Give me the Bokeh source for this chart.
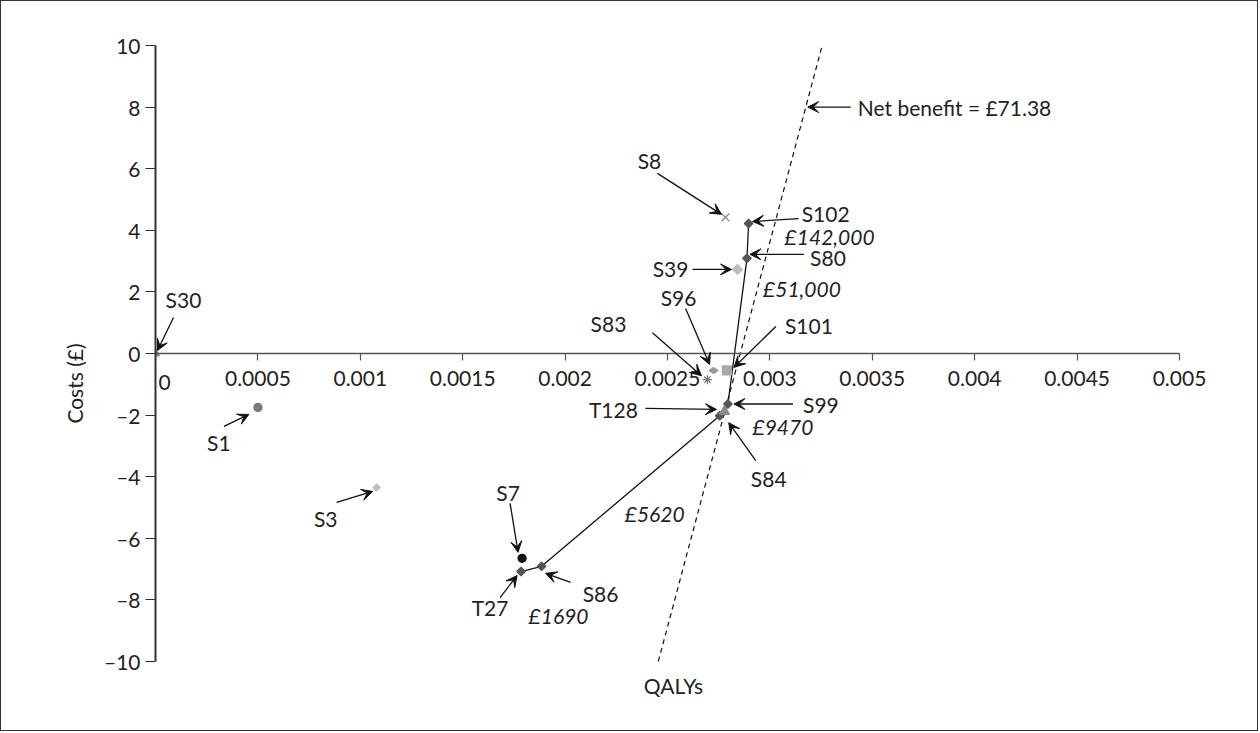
import math
from bokeh.plotting import figure
from bokeh.models import Arrow, VeeHead, ColumnDataSource, FixedTicker, Range1d
from bokeh.core.properties import value
from bokeh.embed import file_html
from bokeh.resources import INLINE

# Strategies: incremental QALYs and incremental costs (£)
names = ["S30", "S1", "S3", "S7", "T27", "S86", "S84", "S99", "S80", "S102",
         "S8", "S39", "S96", "S101", "S83", "T128"]
qalys = [0.0, 0.0005, 0.00108, 0.00179, 0.001785, 0.001885, 0.002755, 0.002795,
         0.002888, 0.002896, 0.002783, 0.002842, 0.002725, 0.00279, 0.002695, 0.002778]
costs = [0.0, -1.75, -4.35, -6.65, -7.08, -6.91, -2.02, -1.64,
         3.09, 4.22, 4.42, 2.73, -0.55, -0.55, -0.85, -1.88]

# Cost-effectiveness frontier and its ICER labels (one per segment)
frontier = ["T27", "S86", "S84", "S99", "S80", "S102"]
icer_labels = ["£1690", "£5620", "£9470", "£51,000", "£142,000"]

# Net benefit line
wtp = 25000          # £ per QALY
net_benefit = 71.38  # £

x_ticks = [0, 0.0005, 0.001, 0.0015, 0.002, 0.0025, 0.003, 0.0035, 0.004, 0.0045, 0.005]
x_tick_labels = ["0", "0.0005", "0.001", "0.0015", "0.002", "0.0025", "0.003",
                 "0.0035", "0.004", "0.0045", "0.005"]
y_ticks = [-10, -8, -6, -4, -2, 0, 2, 4, 6, 8, 10]
y_tick_labels = ["\u201310", "\u20138", "\u20136", "\u20134", "\u20132", "0",
                 "2", "4", "6", "8", "10"]

# ---- styling -------------------------------------------------------------
FONT = "Lato"
FS = "21px"
INK = "#231f20"

# (marker, colour, size, rotation in degrees)
marker_style = {
    "S30": ("triangle", "#8a8a8a", 8, 0),
    "S1": ("circle", "#7a7a7a", 8, 0),
    "S3": ("square", "#bdbdbd", 5, 45),
    "S7": ("circle", "#111111", 8, 0),
    "T27": ("square", "#555555", 6, 45),
    "S86": ("square", "#555555", 6, 45),
    "S84": ("square", "#555555", 6, 45),
    "S99": ("square", "#555555", 6, 45),
    "S80": ("square", "#555555", 6, 45),
    "S102": ("square", "#555555", 6, 45),
    "S8": ("x", "#8a8a8a", 11, 0),
    "S39": ("square", "#bdbdbd", 7, 45),
    "S96": ("diamond", "#9a9a9a", 9, 90),
    "S101": ("square", "#a8a8a8", 9, 0),
    "S83": ("asterisk", "#777777", 9, 0),
    "T128": ("triangle", "#8a8a8a", 10, 0),
}

# pixel offsets (right, down) from each point: label centre, arrow tail, arrow tip
label_layout = {
    "S30": ((28, -54), (18, -36), (2, -3)),
    "S1": ((-39, 35), (-34, 19), (-9, 7)),
    "S3": ((-51, 31), (-40, 15), (-4, 4)),
    "S7": ((-14, -66), (-12, -55), (-4, -6)),
    "T27": ((-31, 36), (-21, 26), (-4, 4)),
    "S86": ((59, 27), (29, 16), (4, 7)),
    "S84": ((49, 63), (36, 45), (9, 7)),
    "S99": ((93, 0), (65, 0), (6, 0)),
    "S80": ((81, -1), (57, -4), (3, -4)),
    "S102": ((77, -10), (50, -5), (4, -2)),
    "S8": ((-76, -57), (-68, -44), (-4, -3)),
    "S39": ((-67, -1), (-45, 0), (-6, 0)),
    "S96": ((-35, -73), (-28, -62), (-4, -6)),
    "S101": ((82, -45), (49, -44), (7, -3)),
    "S83": ((-99, -56), (-55, -47), (-6, -4)),
    "T128": ((-111, -2), (-79, -3), (-8, -2)),
}
# ICER label offsets from the upper end of each frontier segment
icer_offsets = [(17, 49), (-65, 98), (55, 22), (55, 30), (81, 13)]

# ---- figure --------------------------------------------------------------
AXIS_W, AXIS_H = 1024, 616      # pixel length of the two drawn axes
PAD_R, PAD_B = 40, 60           # extra drawing room right of / below the axes
x0, x1 = x_ticks[0], x_ticks[-1]
y0, y1 = y_ticks[0], y_ticks[-1]
sx = AXIS_W / (x1 - x0)
sy = AXIS_H / (y1 - y0)


def shift(q, c, off):
    return q + off[0] / sx, c - off[1] / sy


p = figure(width=1258, height=731,
           x_range=Range1d(x0, x1 + PAD_R / sx), y_range=Range1d(y0 - PAD_B / sy, y1),
           output_backend="svg", toolbar_location=None,
           min_border_left=154, min_border_right=80 - PAD_R,
           min_border_top=44, min_border_bottom=71 - PAD_B)
p.styles = {"border": "1px solid #333333"}
p.outline_line_color = None
p.grid.visible = False
p.background_fill_color = "white"
p.border_fill_color = "white"

# y axis
p.yaxis.bounds = (y0, y1)
p.yaxis.ticker = FixedTicker(ticks=y_ticks)
p.yaxis.major_label_overrides = {t: s for t, s in zip(y_ticks, y_tick_labels)}
p.yaxis.axis_label = "Costs (£)"
p.yaxis.axis_label_text_font = FONT
p.yaxis.axis_label_text_font_size = FS
p.yaxis.axis_label_text_font_style = "normal"
p.yaxis.axis_label_text_color = INK
p.yaxis.axis_label_standoff = 14
p.yaxis.major_label_text_font = FONT
p.yaxis.major_label_text_font_size = FS
p.yaxis.major_label_text_color = INK
p.yaxis.major_label_standoff = 5
p.yaxis.axis_line_width = 2
p.yaxis.axis_line_color = "#333333"
p.yaxis.major_tick_line_color = "#333333"
p.yaxis.major_tick_line_width = 1.2
p.yaxis.major_tick_out = 10
p.yaxis.major_tick_in = 0
p.yaxis.minor_tick_line_color = None

# x axis drawn through the origin
p.xaxis.fixed_location = 0
p.xaxis.bounds = (x0, x1)
p.xaxis.ticker = FixedTicker(ticks=x_ticks)
x_over = {t: s for t, s in zip(x_ticks, x_tick_labels)}
x_over[0] = ""
p.xaxis.major_label_overrides = x_over
p.xaxis.major_label_text_font = FONT
p.xaxis.major_label_text_font_size = FS
p.xaxis.major_label_text_color = INK
p.xaxis.major_label_standoff = 10
p.xaxis.axis_line_color = "#555555"
p.xaxis.axis_line_width = 1.5
p.xaxis.major_tick_line_color = "#555555"
p.xaxis.major_tick_line_width = 1.2
p.xaxis.major_tick_out = 7
p.xaxis.major_tick_in = 0
p.xaxis.minor_tick_line_color = None

# net benefit line: cost = wtp * QALY - net benefit
nb_c = [y0, y1]
nb_q = [(c + net_benefit) / wtp for c in nb_c]
p.line(nb_q, nb_c, line_color="#111111", line_width=1.2, line_dash="5 4")

# frontier
pos = {n: (q, c) for n, q, c in zip(names, qalys, costs)}
p.line([pos[n][0] for n in frontier], [pos[n][1] for n in frontier],
       line_color="#111111", line_width=1.3)

# strategies
for n in names:
    m, col, sz, rot = marker_style[n]
    q, c = pos[n]
    p.scatter([q], [c], marker=m, size=sz, angle=math.radians(rot),
              fill_color=col, line_color=col, line_width=1.3)

# labels and arrows
lx, ly, lt = [], [], []
ax0, ay0, ax1, ay1 = [], [], [], []
for n in names:
    q, c = pos[n]
    lab, tail, tip = label_layout[n]
    a, b = shift(q, c, lab)
    lx.append(a); ly.append(b); lt.append(n)
    a, b = shift(q, c, tail)
    ax0.append(a); ay0.append(b)
    a, b = shift(q, c, tip)
    ax1.append(a); ay1.append(b)

# "0" on the x axis sits just right of the y axis
a, b = shift(x_ticks[0], 0, (9, 29))
lx.append(a); ly.append(b); lt.append(x_tick_labels[0])

# x axis title
a, b = shift((x0 + x1) / 2, y0, (6, 24))
lx.append(a); ly.append(b); lt.append("QALYs")

p.text(x="x", y="y", text="t", source=ColumnDataSource(dict(x=lx, y=ly, t=lt)),
       text_font=value(FONT), text_font_size=FS, text_color=INK,
       text_align="center", text_baseline="middle")

# ICER labels
ix, iy = [], []
for i, off in enumerate(icer_offsets):
    q, c = pos[frontier[i + 1]]
    a, b = shift(q, c, off)
    ix.append(a); iy.append(b)
p.text(x="x", y="y", text="t", source=ColumnDataSource(dict(x=ix, y=iy, t=icer_labels)),
       text_font=value(FONT), text_font_size=FS, text_color=INK, text_font_style="italic",
       text_align="center", text_baseline="middle")

# net benefit annotation
nb_anchor_c = 8.0
nb_anchor_q = (nb_anchor_c + net_benefit) / wtp
a, b = shift(nb_anchor_q, nb_anchor_c, (52, 0))
p.text(x=[a], y=[b], text=[f"Net benefit = £{net_benefit:.2f}"],
       text_font=value(FONT), text_font_size=FS, text_color=INK,
       text_align="left", text_baseline="middle")
a0, b0 = shift(nb_anchor_q, nb_anchor_c, (45, 0))
a1, b1 = shift(nb_anchor_q, nb_anchor_c, (2, 0))
ax0.append(a0); ay0.append(b0); ax1.append(a1); ay1.append(b1)

p.add_layout(Arrow(x_start="xs", y_start="ys", x_end="xe", y_end="ye",
                   source=ColumnDataSource(dict(xs=ax0, ys=ay0, xe=ax1, ye=ay1)),
                   line_color="#111111", line_width=1.3,
                   end=VeeHead(size=11, fill_color="#111111", line_color="#111111",
                               line_width=1)))

open("out.html", "w").write(file_html(p, INLINE))
